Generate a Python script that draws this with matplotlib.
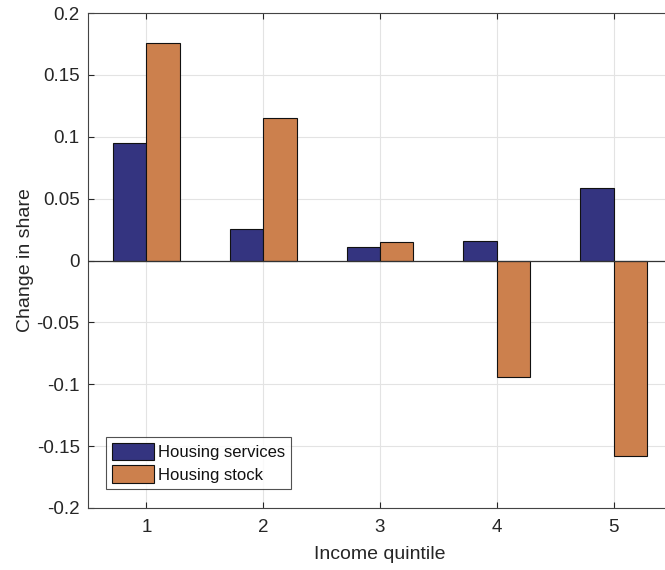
import numpy as np
import matplotlib
matplotlib.use("Agg")
import matplotlib.pyplot as plt

plt.rcParams["font.family"] = ["Liberation Sans", "DejaVu Sans"]

# data
quintiles = [1, 2, 3, 4, 5]
housing_services = [0.095, 0.0256, 0.011, 0.0159, 0.0582]
housing_stock = [0.1757, 0.1151, 0.0146, -0.0941, -0.1582]
series_names = ["Housing services", "Housing stock"]
y_ticks = [-0.2, -0.15, -0.1, -0.05, 0, 0.05, 0.1, 0.15, 0.2]
y_ticklabels = ["-0.2", "-0.15", "-0.1", "-0.05", "0", "0.05", "0.1", "0.15", "0.2"]

# colors
services_col = "#343480"
stock_col = "#CC804D"
text_col = "#262626"

fig = plt.figure(figsize=(6.65, 5.70), dpi=100)
ax = fig.add_axes([88 / 665, 1 - 508 / 570, 584 / 665, 495 / 570])

x = np.array(quintiles)
w = 0.2857
ax.bar(x - w / 2, housing_services, w, color=services_col, edgecolor="#111111",
       linewidth=0.8, label=series_names[0], zorder=3)
ax.bar(x + w / 2, housing_stock, w, color=stock_col, edgecolor="#111111",
       linewidth=0.8, label=series_names[1], zorder=3)
ax.axhline(0, color="#333333", linewidth=0.9, zorder=4)

ax.set_xlim(0.5, 5.5)
ax.set_ylim(-0.2, 0.2)
ax.set_xticks(quintiles)
ax.set_yticks(y_ticks)
ax.set_yticklabels(y_ticklabels)
ax.grid(True, color="#e3e3e3", linewidth=0.8, zorder=0)
ax.tick_params(direction="in", top=True, right=True, labelsize=13.5,
               colors=text_col, length=4, width=0.8)
ax.tick_params(axis="y", pad=6)
ax.tick_params(axis="x", pad=8)
for s in ax.spines.values():
    s.set_color("#444444")
    s.set_linewidth(0.8)

ax.set_xlabel("Income quintile", fontsize=14, color=text_col, labelpad=7)
ax.set_ylabel("Change in share", fontsize=14, color=text_col, labelpad=2)

leg = ax.legend(loc="lower left", bbox_to_anchor=(0.031, 0.039), fontsize=12,
                frameon=True, fancybox=False, edgecolor="#262626",
                handlelength=2.5, handleheight=1.25, handletextpad=0.25,
                borderpad=0.35, labelspacing=0.3, borderaxespad=0)
leg.get_frame().set_linewidth(0.8)
for t in leg.get_texts():
    t.set_color("#111111")

fig.savefig("out.png", dpi=100)
